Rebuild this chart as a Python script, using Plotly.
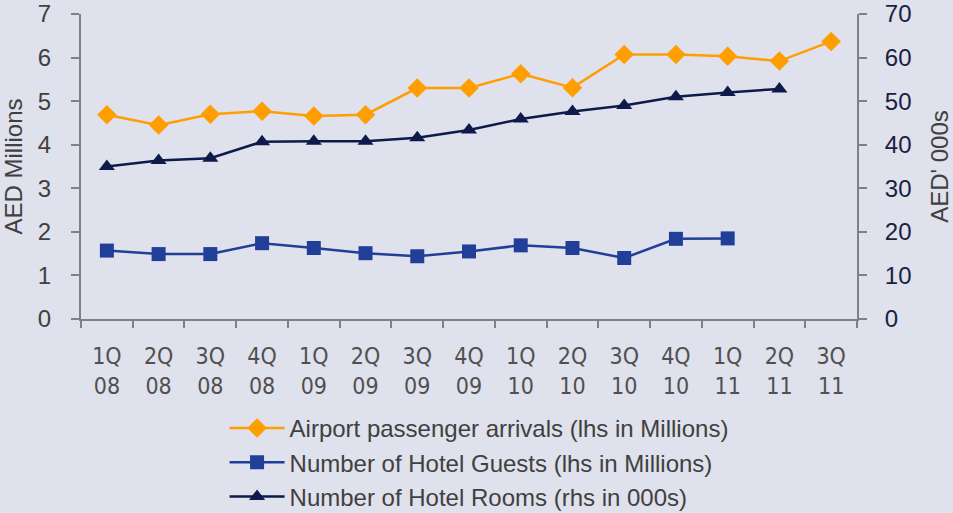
import plotly.graph_objects as go

quarters = ["1Q<br>08", "2Q<br>08", "3Q<br>08", "4Q<br>08", "1Q<br>09", "2Q<br>09", "3Q<br>09", "4Q<br>09",
            "1Q<br>10", "2Q<br>10", "3Q<br>10", "4Q<br>10", "1Q<br>11", "2Q<br>11", "3Q<br>11"]
airport_arrivals = [4.69, 4.45, 4.70, 4.77, 4.66, 4.69, 5.30, 5.30, 5.63, 5.31, 6.07, 6.07, 6.03, 5.92, 6.37]
hotel_guests = [1.57, 1.49, 1.49, 1.74, 1.63, 1.51, 1.44, 1.55, 1.69, 1.63, 1.40, 1.84, 1.85, None, None]
hotel_rooms = [35.0, 36.4, 36.9, 40.7, 40.8, 40.8, 41.6, 43.4, 45.9, 47.6, 49.0, 51.0, 52.0, 52.8, None]

BG = "#DFE1EC"
AXIS = "#808080"
FONT = "Liberation Sans, Arial, sans-serif"
NARROW = "Liberation Sans Narrow, Arial Narrow, DejaVu Sans Condensed, Liberation Sans, sans-serif"

fig = go.Figure()
fig.add_trace(go.Scatter(x=quarters, y=airport_arrivals, mode="lines+markers",
                         name="Airport passenger arrivals (lhs in Millions)",
                         line=dict(color="#FF9E00", width=2.5),
                         marker=dict(symbol="diamond", size=15, color="#FF9E00"),
                         yaxis="y"))
fig.add_trace(go.Scatter(x=quarters, y=hotel_guests, mode="lines+markers",
                         name="Number of Hotel Guests (lhs in Millions)",
                         line=dict(color="#213F99", width=2.5),
                         marker=dict(symbol="square", size=14, color="#213F99"),
                         yaxis="y"))
fig.add_trace(go.Scatter(x=quarters, y=hotel_rooms, mode="lines+markers",
                         name="Number of Hotel Rooms (rhs in 000s)",
                         line=dict(color="#0E1A4A", width=2.5),
                         marker=dict(symbol="triangle-up", size=14, color="#0E1A4A"),
                         yaxis="y2"))

fig.update_layout(
    width=953, height=513,
    paper_bgcolor=BG, plot_bgcolor=BG,
    margin=dict(l=81, r=96, t=14, b=194, autoexpand=False),
    font=dict(family=FONT, color="#404040"),
    showlegend=True,
    legend=dict(orientation="v", x=0.185, xanchor="left", y=-0.285, yanchor="top",
                bgcolor="rgba(0,0,0,0)", font=dict(size=24, color="#404040"),
                tracegroupgap=0, itemwidth=55),
    xaxis=dict(type="category", showline=True, linecolor=AXIS, linewidth=2,
               ticks="outside", tickson="boundaries", ticklen=7, tickcolor=AXIS, tickwidth=2,
               showgrid=False, zeroline=False,
               tickfont=dict(size=23, color="#505050", family=NARROW),
               ticklabelstandoff=15, range=[-0.5, 14.5], automargin=False),
    yaxis=dict(range=[0, 7], dtick=1, showline=True, linecolor=AXIS, linewidth=2,
               ticks="outside", ticklen=8, tickcolor=AXIS, tickwidth=2,
               showgrid=False, zeroline=False, tickfont=dict(size=24, color="#404040"),
               ticklabelstandoff=15, automargin=False,
               title=dict(text="AED Millions", font=dict(size=24, color="#404040"), standoff=19)),
    yaxis2=dict(range=[0, 70], dtick=10, overlaying="y", side="right", showline=True,
                linecolor=AXIS, linewidth=2, ticks="outside", ticklen=8, tickcolor=AXIS, tickwidth=2,
                showgrid=False, zeroline=False, tickfont=dict(size=24, color="#1A2040"),
                ticklabelstandoff=13, automargin=False,
                title=dict(text="AED' 000s", font=dict(size=24, color="#404040"), standoff=28)),
)

fig.write_html("out.html", config={"displayModeBar": False},
               post_script="document.body.style.margin='0';")
